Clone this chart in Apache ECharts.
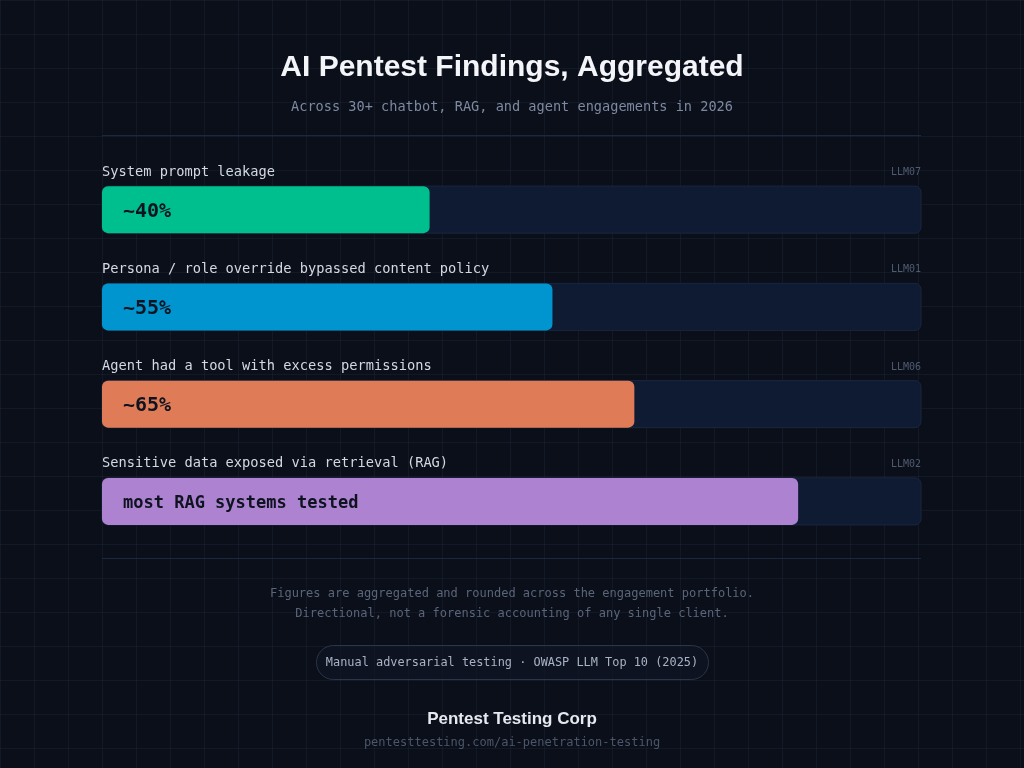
<!DOCTYPE html>
<html>
<head>
<meta charset="utf-8">
<script src="https://cdn.jsdelivr.net/npm/echarts@6/dist/echarts.min.js"></script>
<style>
html,body{margin:0;padding:0;width:1024px;height:768px;overflow:hidden;}
body{
  background-color:#0b0f1a;
  background-image:
    linear-gradient(to right, rgba(120,150,190,0.07) 1px, transparent 1px),
    linear-gradient(to bottom, rgba(120,150,190,0.07) 1px, transparent 1px);
  background-size:34px 34px;
}
#chart{width:1024px;height:768px;}
</style>
</head>
<body>
<div id="chart"></div>
<script>
const categories = [
  'System prompt leakage',
  'Persona / role override bypassed content policy',
  'Agent had a tool with excess permissions',
  'Sensitive data exposed via retrieval (RAG)'
];
const values = [40, 55, 65, 85];
const valueLabels = ['~40%', '~55%', '~65%', 'most RAG systems tested'];
const codes = ['LLM07', 'LLM01', 'LLM06', 'LLM02'];
const barColors = ['#00bf8f', '#0095cf', '#e07b58', '#ad82d0'];

const mono = '"DejaVu Sans Mono", monospace';
const sans = '"Liberation Sans", Arial, sans-serif';

// short numeric labels are larger than the long text label
function styledLabel(s) {
  return (s.length > 6 ? '{t|' : '{p|') + s + '}';
}

const chart = echarts.init(document.getElementById('chart'), null, {renderer: 'canvas'});

const option = {
  backgroundColor: 'transparent',
  animation: false,
  title: [
    {text: 'AI Pentest Findings, Aggregated', left: 'center', top: 48,
     textStyle: {fontFamily: sans, fontSize: 30, fontWeight: 'bold', color: '#f3f5f9'}},
    {text: 'Across 30+ chatbot, RAG, and agent engagements in 2026', left: 'center', top: 95,
     textStyle: {fontFamily: mono, fontSize: 13.6, fontWeight: 'normal', color: '#7d89a0'}}
  ],
  grid: {left: 102, right: 103, top: 161, height: 389},
  xAxis: {type: 'value', min: 0, max: 100, show: false},
  yAxis: {type: 'category', data: categories, inverse: true, show: false},
  series: [
    {
      type: 'bar', data: values, barWidth: 47,
      itemStyle: {color: (p) => barColors[p.dataIndex], borderRadius: 6},
      showBackground: true,
      backgroundStyle: {color: '#0f1a33', borderColor: '#1b2740', borderWidth: 1, borderRadius: 6},
      label: {show: true, position: 'insideLeft', distance: 21, offset: [0, 2],
        formatter: (p) => styledLabel(valueLabels[p.dataIndex]),
        rich: {
          p: {fontFamily: mono, fontSize: 20, fontWeight: 'bold', color: '#0d1420'},
          t: {fontFamily: mono, fontSize: 17, fontWeight: 'bold', color: '#0d1420'}
        }},
      z: 3
    },
    {
      type: 'bar', data: categories.map(() => 100), barWidth: 47, barGap: '-100%',
      itemStyle: {color: 'transparent'}, silent: true,
      label: {show: true, position: [0, -14], align: 'left', verticalAlign: 'middle',
        formatter: (p) => categories[p.dataIndex],
        fontFamily: mono, fontSize: 13.7, color: '#d3d9e3'},
      z: 4
    },
    {
      type: 'bar', data: categories.map(() => 100), barWidth: 47, barGap: '-100%',
      itemStyle: {color: 'transparent'}, silent: true,
      label: {show: true, position: ['100%', -13.5], align: 'right', verticalAlign: 'middle',
        formatter: (p) => codes[p.dataIndex],
        fontFamily: mono, fontSize: 10, color: '#4f5b70'},
      z: 4
    }
  ],
  graphic: [
    {type: 'line', shape: {x1: 102, y1: 135.5, x2: 921, y2: 135.5}, style: {stroke: '#1c2740', lineWidth: 1}},
    {type: 'line', shape: {x1: 102, y1: 558.5, x2: 921, y2: 558.5}, style: {stroke: '#1c2740', lineWidth: 1}},
    {type: 'text', x: 512, y: 594, style: {text: 'Figures are aggregated and rounded across the engagement portfolio.',
      fontFamily: mono, fontSize: 12, fill: '#5a6579', align: 'center', verticalAlign: 'middle'}},
    {type: 'text', x: 512, y: 614, style: {text: 'Directional, not a forensic accounting of any single client.',
      fontFamily: mono, fontSize: 12, fill: '#5a6579', align: 'center', verticalAlign: 'middle'}},
    {type: 'rect', shape: {x: 316.5, y: 645.5, width: 392, height: 34, r: 17},
      style: {fill: 'rgba(15,22,38,0.6)', stroke: '#2a3649', lineWidth: 1}},
    {type: 'text', x: 512, y: 663, style: {text: 'Manual adversarial testing · OWASP LLM Top 10 (2025)',
      fontFamily: mono, fontSize: 11.9, fill: '#a9b3c4', align: 'center', verticalAlign: 'middle'}},
    {type: 'text', x: 512, y: 719, style: {text: 'Pentest Testing Corp',
      fontFamily: sans, fontSize: 17, fontWeight: 'bold', fill: '#e6e9ef', align: 'center', verticalAlign: 'middle'}},
    {type: 'text', x: 512, y: 743, style: {text: 'pentesttesting.com/ai-penetration-testing',
      fontFamily: mono, fontSize: 12, fill: '#4b566a', align: 'center', verticalAlign: 'middle'}}
  ]
};
chart.setOption(option);
</script>
</body>
</html>
